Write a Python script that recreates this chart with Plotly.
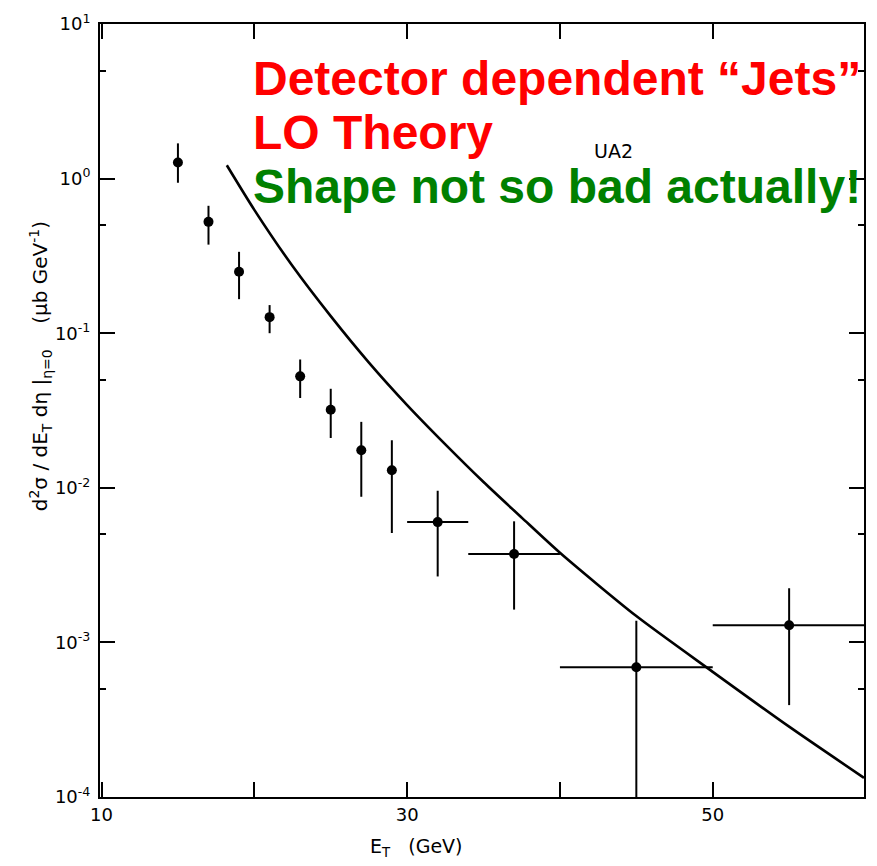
import plotly.graph_objects as go

# ---- data ----
et = [15, 17, 19, 21, 23, 25, 27, 29, 32, 37, 45, 55]
xsec = [1.27, 0.525, 0.25, 0.127, 0.0526, 0.032, 0.0175, 0.013, 0.0060, 0.00373, 0.00069, 0.00129]
xsec_hi = [1.69, 0.667, 0.336, 0.152, 0.0676, 0.0437, 0.0267, 0.0203, 0.00957, 0.00607, 0.00138, 0.00224]
xsec_lo = [0.94, 0.374, 0.166, 0.10, 0.0381, 0.021, 0.00875, 0.0051, 0.00267, 0.00163, 0.00002, 0.000393]
bin_lo = [15, 17, 19, 21, 23, 25, 27, 29, 30, 34, 40, 50]
bin_hi = [15, 17, 19, 21, 23, 25, 27, 29, 34, 40, 50, 60]

theory_et = [18.2, 20, 22.5, 25, 27.5, 30, 32.5, 35, 37.5, 40, 45, 50, 55, 59.9]
theory_xsec = [1.22, 0.628, 0.272, 0.129, 0.0646, 0.0343, 0.0191, 0.0109, 0.00641,
               0.0038, 0.00148, 0.000645, 0.000285, 0.000133]

ytick_vals = [1e-4, 1e-3, 1e-2, 1e-1, 1e0, 1e1]
ytick_text = ["10<sup>-4</sup>", "10<sup>-3</sup>", "10<sup>-2</sup>", "10<sup>-1</sup>", "10<sup>0</sup>", "10<sup>1</sup>"]
yminor_vals = [5e-4, 5e-3, 5e-2, 5e-1, 5e0]
xtick_vals = [10, 20, 30, 40, 50]
xtick_text = ["10", "", "30", "", "50"]

# ---- figure ----
W, H = 877, 866
L, R, T, B = 100, 11, 22, 69
pw, ph = W - L - R, H - T - B


def px(x):
    return (x - L) / pw


def py(y):
    return (H - B - y) / ph


fig = go.Figure()

fig.add_trace(go.Scatter(
    x=theory_et, y=theory_xsec, mode="lines",
    line=dict(color="black", width=2.6, shape="spline", smoothing=0.7),
    hoverinfo="skip", showlegend=False))

fig.add_trace(go.Scatter(
    x=et, y=xsec, mode="markers",
    marker=dict(color="black", size=10, symbol="circle"),
    error_y=dict(type="data", symmetric=False,
                 array=[h - v for h, v in zip(xsec_hi, xsec)],
                 arrayminus=[v - l for l, v in zip(xsec_lo, xsec)],
                 color="black", thickness=2, width=0),
    error_x=dict(type="data", symmetric=False,
                 array=[h - v for h, v in zip(bin_hi, et)],
                 arrayminus=[v - l for l, v in zip(bin_lo, et)],
                 color="black", thickness=2, width=0),
    showlegend=False))

axis_common = dict(showline=True, linecolor="black", linewidth=2, mirror="ticks",
                   ticks="inside", ticklen=15, tickwidth=2, tickcolor="black",
                   showgrid=False, zeroline=False,
                   tickfont=dict(family="DejaVu Sans", size=18, color="black"))

fig.update_xaxes(range=[9.9, 59.9], tickvals=xtick_vals, ticktext=xtick_text, **axis_common)
fig.update_yaxes(type="log", range=[-4, 1], tickvals=ytick_vals, ticktext=ytick_text,
                 minor=dict(tickvals=yminor_vals, ticks="inside", ticklen=6,
                            tickwidth=2, tickcolor="black", showgrid=False),
                 ticklabelstandoff=4, **axis_common)

big = dict(family="Liberation Sans", size=48)
ann = []
ann.append(dict(text="<b>Detector dependent \u201cJets\u201d</b>", x=px(251), y=py(76.5),
                font=dict(**big, color="#ff0000"), xanchor="left", yanchor="middle"))
ann.append(dict(text="<b>LO Theory</b>", x=px(251), y=py(130.5),
                font=dict(**big, color="#ff0000"), xanchor="left", yanchor="middle"))
ann.append(dict(text="<b>Shape not so bad actually!</b>", x=px(251), y=py(184.5),
                font=dict(**big, color="#008000"), xanchor="left", yanchor="middle"))
ann.append(dict(text="UA2", x=px(615), y=py(149),
                font=dict(family="DejaVu Sans", size=19, color="black"),
                xanchor="center", yanchor="middle"))
ann.append(dict(text="E<sub>T</sub>   (GeV)", x=px(417), y=py(848),
                font=dict(family="DejaVu Sans", size=19, color="black"),
                xanchor="center", yanchor="middle"))
ann.append(dict(text="d<sup>2</sup>\u03c3 / dE<sub>T</sub> d\u03b7 |<sub>\u03b7=0</sub>    (\u03bcb GeV<sup>-1</sup>)",
                x=px(40), y=py(365), textangle=-90,
                font=dict(family="DejaVu Sans", size=20, color="black"),
                xanchor="center", yanchor="middle"))
for a in ann:
    a.update(xref="paper", yref="paper", showarrow=False)

fig.update_layout(width=W, height=H, margin=dict(l=L, r=R, t=T, b=B),
                  paper_bgcolor="white", plot_bgcolor="white", annotations=ann)

fig.write_html("out.html")
